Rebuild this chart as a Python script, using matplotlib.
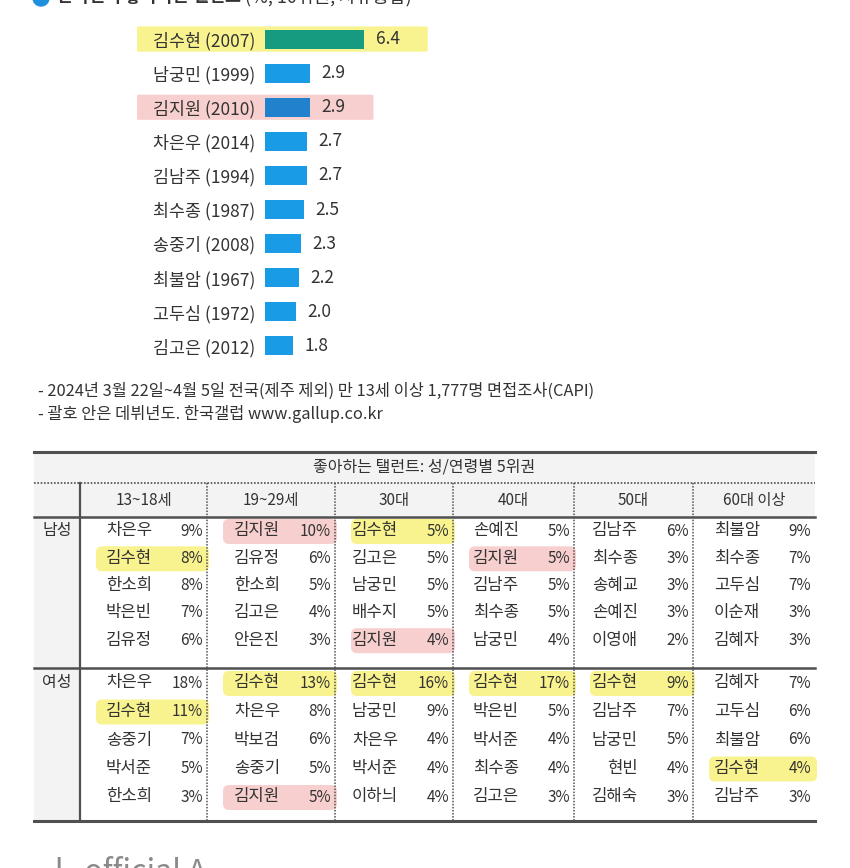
import matplotlib
matplotlib.use("Agg")
import matplotlib.pyplot as plt
from matplotlib.patches import Rectangle, FancyBboxPatch, Circle

plt.rcParams['font.family'] = ['Noto Sans CJK KR', 'DejaVu Sans']

# ---- bar chart data ----
names = ['김수현', '남궁민', '김지원', '차은우', '김남주', '최수종', '송중기', '최불암', '고두심', '김고은']
debut = [2007, 1999, 2010, 2014, 1994, 1987, 2008, 1967, 1972, 2012]
share = [6.4, 2.9, 2.9, 2.7, 2.7, 2.5, 2.3, 2.2, 2.0, 1.8]

# ---- table data (성/연령별 5위권) ----
age_groups = ['13~18세', '19~29세', '30대', '40대', '50대', '60대 이상']
male_names = [
    ['차은우', '김수현', '한소희', '박은빈', '김유정'],
    ['김지원', '김유정', '한소희', '김고은', '안은진'],
    ['김수현', '김고은', '남궁민', '배수지', '김지원'],
    ['손예진', '김지원', '김남주', '최수종', '남궁민'],
    ['김남주', '최수종', '송혜교', '손예진', '이영애'],
    ['최불암', '최수종', '고두심', '이순재', '김혜자'],
]
male_pct = [
    [9, 8, 8, 7, 6],
    [10, 6, 5, 4, 3],
    [5, 5, 5, 5, 4],
    [5, 5, 5, 5, 4],
    [6, 3, 3, 3, 2],
    [9, 7, 7, 3, 3],
]
female_names = [
    ['차은우', '김수현', '송중기', '박서준', '한소희'],
    ['김수현', '차은우', '박보검', '송중기', '김지원'],
    ['김수현', '남궁민', '차은우', '박서준', '이하늬'],
    ['김수현', '박은빈', '박서준', '최수종', '김고은'],
    ['김수현', '김남주', '남궁민', '현빈', '김해숙'],
    ['김혜자', '고두심', '최불암', '김수현', '김남주'],
]
female_pct = [
    [18, 11, 7, 5, 3],
    [13, 8, 6, 5, 5],
    [16, 9, 4, 4, 4],
    [17, 5, 4, 4, 3],
    [9, 7, 5, 4, 3],
    [7, 6, 6, 4, 3],
]

highlight = {'김수현': ('#f7f06a', 0.75), '김지원': ('#f4a9a9', 0.55)}
bar_colors = {'김수현': '#169a80', '김지원': '#2281cc'}
base_bar = '#1a9be6'
txt = '#333333'
line_c = '#505050'

W, H = 850, 868
fig = plt.figure(figsize=(W / 100, H / 100), dpi=100)
bg = fig.add_axes([0, 0, 1, 1])
bg.set_xlim(0, W)
bg.set_ylim(H, 0)
bg.axis('off')

# title, cut off by the top edge as in the source image
bg.add_patch(Circle((41, -2), 8, color='#1f8fe0'))
t1 = bg.text(57, -3, '한국인이 좋아하는 탤런트', fontsize=12.5, fontweight='bold', color=txt,
             va='center', ha='left')
bg.annotate('(%, 10위권, 자유응답)', xy=(1, 0.5), xycoords=t1, xytext=(3, 0), textcoords='offset points',
            fontsize=13, color=txt, va='center', ha='left')

# ---- bar chart ----
px = 15.5  # pixels per percent
ax_left, ax_w = 265, 200
ax_top, ax_bot = 22, 363
ax = fig.add_axes([ax_left / W, 1 - ax_bot / H, ax_w / W, (ax_bot - ax_top) / H])
ax.patch.set_alpha(0)
ax.set_xlim(0, ax_w / px)
ax.set_ylim(len(names) - 0.5, -0.5)
for s in ax.spines.values():
    s.set_visible(False)
ax.set_xticks([])

ypos = list(range(len(names)))
for i, (n, v) in enumerate(zip(names, share)):
    if n in highlight:
        c, a = highlight[n]
        ax.add_patch(FancyBboxPatch((-(ax_left - 137) / px, i - 0.37), (ax_left - 137) / px + v + 4.1, 0.74,
                                    boxstyle='round,pad=0,rounding_size=0.2', mutation_aspect=1 / px * 2,
                                    fc=c, ec='none', alpha=a, zorder=0, clip_on=False))
ax.barh(ypos, share, height=0.56, color=[bar_colors.get(n, base_bar) for n in names], zorder=2)
for i, v in enumerate(share):
    ax.text(v + 0.75, i, f'{v:.1f}', va='center', ha='left', fontsize=12.5, color=txt, zorder=3)
ax.set_yticks(ypos)
ax.set_yticklabels([f'{n} ({d})' for n, d in zip(names, debut)], fontsize=12.5, color=txt)
ax.tick_params(axis='y', length=0, pad=7)

# footnotes
bg.text(38, 391, '- 2024년 3월 22일~4월 5일 전국(제주 제외) 만 13세 이상 1,777명 면접조사(CAPI)',
        fontsize=11.8, color=txt, va='center', ha='left')
bg.text(38, 414, '- 괄호 안은 데뷔년도. 한국갤럽 www.gallup.co.kr',
        fontsize=11.8, color=txt, va='center', ha='left')

# ---- table ----
t_left, t_right = 34, 815
lab_right = 80
col_edges = [80, 207, 335, 453, 574, 693, 815]
y_top, y_dot, y_head, y_mid, y_bot = 452, 483, 517, 668, 821

bg.add_patch(Rectangle((t_left, y_top), t_right - t_left, y_head - y_top, fc='#f3f3f3', ec='none', zorder=0))
bg.add_patch(Rectangle((t_left, y_head), lab_right - t_left, y_bot - y_head, fc='#f3f3f3', ec='none', zorder=0))

bg.text((t_left + t_right) / 2, 467, '좋아하는 탤런트: 성/연령별 5위권', fontsize=11.5, color=txt,
        ha='center', va='center', zorder=3)
for k, g in enumerate(age_groups):
    bg.text((col_edges[k] + col_edges[k + 1]) / 2, 501, g, fontsize=11, color=txt,
            ha='center', va='center', zorder=3)

bg.plot([t_left, t_right], [y_top, y_top], color=line_c, lw=2.2, zorder=4)
bg.plot([t_left, t_right], [y_dot, y_dot], color=line_c, lw=1.2, ls=(0, (1, 1)), zorder=4)
bg.plot([t_left, t_right], [y_head, y_head], color=line_c, lw=1.8, zorder=4)
bg.plot([t_left, t_right], [y_mid, y_mid], color=line_c, lw=1.8, zorder=4)
bg.plot([t_left, t_right], [y_bot, y_bot], color=line_c, lw=2.2, zorder=4)
bg.plot([lab_right, lab_right], [y_dot, y_bot], color=line_c, lw=1.6, zorder=4)
for xe in col_edges[1:-1]:
    bg.plot([xe, xe], [y_dot, y_bot], color=line_c, lw=1.1, ls=(0, (1, 1)), zorder=4)


def draw_block(label, block_names, block_pct, y0, step):
    bg.text(57, y0, label, fontsize=11.5, color=txt, ha='center', va='center', zorder=3)
    for k in range(len(age_groups)):
        cl, cr = col_edges[k], col_edges[k + 1]
        for r, (n, p) in enumerate(zip(block_names[k], block_pct[k])):
            y = y0 + r * step
            if n in highlight:
                c, a = highlight[n]
                bg.add_patch(FancyBboxPatch((cl + 16, y - 12), cr - cl - 14, 25,
                                            boxstyle='round,pad=0,rounding_size=6',
                                            fc=c, ec='none', alpha=a, zorder=1))
            bg.text(cr - 55, y, n, fontsize=12, color=txt, ha='right', va='center', zorder=3)
            bg.text(cr - 4, y, f'{p}%', fontsize=11, color=txt, ha='right', va='center', zorder=3)


draw_block('남성', male_names, male_pct, 531, 27.3)
draw_block('여성', female_names, female_pct, 683, 28.5)

# caption cut off by the bottom edge, as in the source image
bg.text(55, 857, 'l   official A', fontsize=22, color='#8a8a8a', ha='left', va='top')

fig.savefig('out.png', dpi=100, facecolor='white')
